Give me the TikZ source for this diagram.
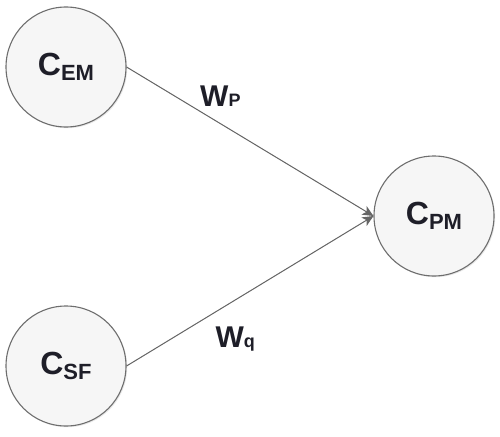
\documentclass[tikz,border=0pt]{standalone}
\usepackage{fontspec}
\setmainfont{Liberation Sans}
\usetikzlibrary{arrows.meta, shadows}
\definecolor{rimgray}{HTML}{6E6E6E}
\definecolor{linkgray}{HTML}{666666}
\definecolor{inkdark}{HTML}{1E1E28}
\newcommand{\cname}[2]{{\fontsize{32}{32}\selectfont C}{\fontsize{22}{22}\selectfont\raisebox{-5pt}{#2}}}
\newcommand{\wname}[1]{{\fontsize{30}{30}\selectfont W}{\fontsize{18}{18}\selectfont #1}}
\tikzset{
  concept/.style = {circle, draw=rimgray, line width=1.1pt, fill=gray!7,
                    minimum size=120pt, inner sep=0pt, text=inkdark,
                    font=\bfseries,
                    drop shadow={opacity=0.18, shadow xshift=1.2pt, shadow yshift=-1.2pt}},
  weight/.style  = {anchor=base, text=inkdark, font=\bfseries, inner sep=0pt},
  link/.style    = {-{Stealth[length=11pt, width=10pt, inset=3pt]}, draw=linkgray,
                    fill=linkgray, line width=1pt}
}
\begin{document}
\begin{tikzpicture}[x=1pt, y=-1pt]
  \useasboundingbox (0,0) rectangle (500,436);

  \node[concept] (cem) at (66,67)  {\cname{C}{EM}};
  \node[concept] (csf) at (66,366) {\cname{C}{SF}};
  \node[concept] (cpm) at (434,216) {\cname{C}{PM}};

  \draw[link] (cem.east) -- node[weight, pos=0.38, yshift=17pt] (wp) {\wname{P}} (cpm.west);
  \draw[link] (csf.east) -- node[weight, pos=0.44, yshift=-47pt] (wq) {\wname{q}} (cpm.west);
\end{tikzpicture}
\end{document}
